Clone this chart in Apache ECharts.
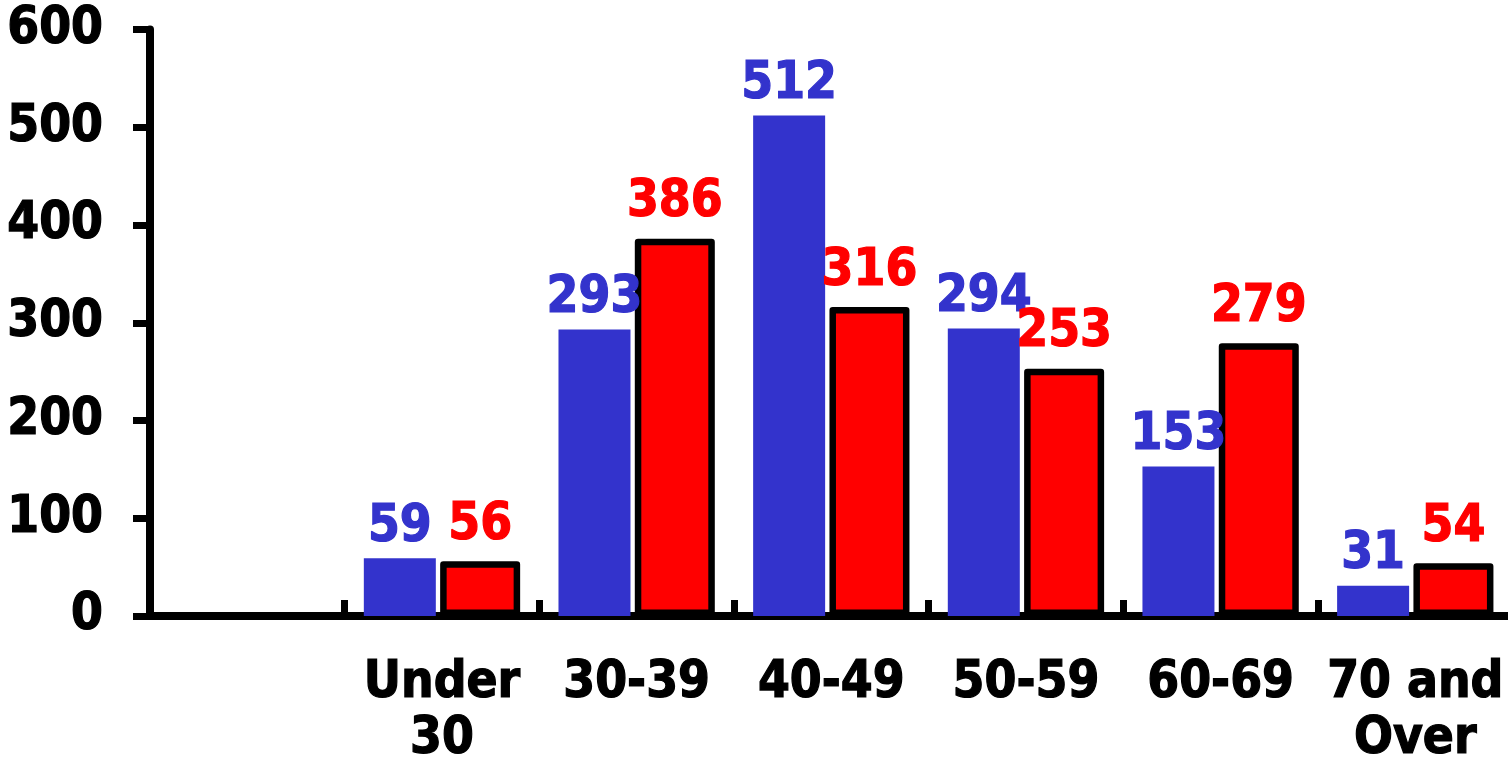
<!DOCTYPE html>
<html>
<head>
<meta charset="utf-8">
<script src="https://cdn.jsdelivr.net/npm/echarts@6/dist/echarts.min.js"></script>
<style>
html,body{margin:0;padding:0;background:#fff;}
#chart{width:1508px;height:758px;}
</style>
</head>
<body>
<div id="chart"></div>
<script>
const categories = ['', 'Under\n30', '30-39', '40-49', '50-59', '60-69', '70 and\nOver'];
const blueValues = [null, 59, 293, 512, 294, 153, 31];
const redValues = [null, 56, 386, 316, 253, 279, 54];
const yTicks = [0, 100, 200, 300, 400, 500, 600];

const FONT = '"DejaVu Sans Condensed", "DejaVu Sans", sans-serif';
function txt(color) {
  return {color: color, fontFamily: FONT, fontWeight: 'bold', fontSize: 51,
          textBorderColor: color, textBorderWidth: 1.2};
}
const chart = echarts.init(document.getElementById('chart'), null, {renderer: 'canvas'});
chart.setOption({
  animation: false,
  backgroundColor: '#ffffff',
  grid: {left: 150, right: -4.6, top: 29.5, bottom: 142, outerBoundsMode: 'none'},
  xAxis: {
    type: 'category',
    data: categories,
    boundaryGap: true,
    axisLine: {show: true, lineStyle: {color: '#000', width: 8}},
    axisTick: {show: true, inside: true, length: 16, lineStyle: {color: '#000', width: 7}},
    axisLabel: Object.assign({interval: 0, lineHeight: 56, margin: 40}, txt('#000')),
    splitLine: {show: false}
  },
  yAxis: {
    type: 'value',
    min: yTicks[0], max: yTicks[yTicks.length - 1], interval: 100,
    axisLine: {show: true, lineStyle: {color: '#000', width: 8}},
    axisTick: {show: true, length: 17, lineStyle: {color: '#000', width: 7}},
    axisLabel: Object.assign({margin: 47}, txt('#000')),
    splitLine: {show: false}
  },
  series: [
    {
      type: 'bar', data: blueValues, barWidth: 72, barGap: '6%',
      itemStyle: {color: '#3333CC'},
      label: Object.assign({show: true, position: 'top', distance: 5}, txt('#3333CC'))
    },
    {
      type: 'bar', data: redValues, barWidth: 80,
      itemStyle: {color: '#FF0000', borderColor: '#000', borderWidth: 6.5, borderJoin: 'round'},
      label: Object.assign({show: true, position: 'top', distance: 10}, txt('#FF0000'))
    }
  ]
});
</script>
</body>
</html>
